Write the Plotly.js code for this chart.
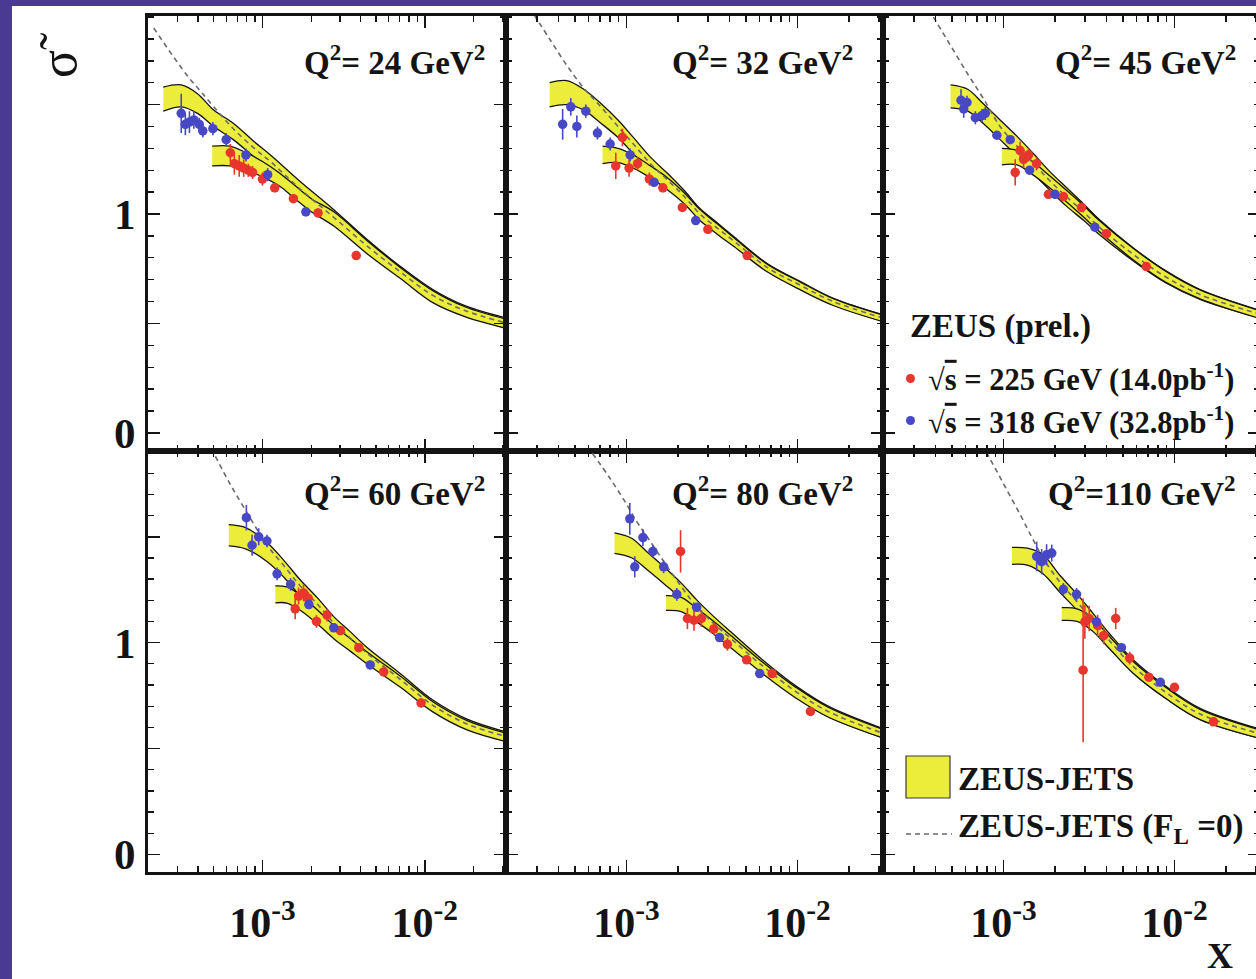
<!DOCTYPE html>
<html>
<head>
<meta charset="utf-8">
<script src="https://cdn.plot.ly/plotly-3.0.1.min.js"></script>
<style>
  html, body { margin: 0; padding: 0; background: #ffffff; overflow: hidden; }
  #chart { width: 1262px; height: 979px; }
</style>
</head>
<body>
<div id="chart"></div>
<script>
// ---- Reduced cross section vs x, six Q^2 bins ----
const qLabels = ['24', '32', '45', '60', '80', '110'];

// Q2 = 24 GeV2
const q24_x318 = [3.16e-4, 3.35e-4, 3.55e-4, 3.78e-4, 4.08e-4, 4.29e-4, 4.95e-4, 5.98e-4, 7.91e-4, 1.076e-3, 1.85e-3];
const q24_y318 = [1.46, 1.41, 1.42, 1.43, 1.41, 1.38, 1.39, 1.34, 1.27, 1.18, 1.01];
const q24_e318 = [0.09, 0.05, 0.05, 0.04, 0.03, 0.03, 0.03, 0.03, 0.03, 0.03, 0.02];
const q24_x225 = [6.34e-4, 6.71e-4, 7.19e-4, 7.66e-4, 8.18e-4, 8.69e-4, 1.0e-3, 1.19e-3, 1.55e-3, 2.20e-3, 3.78e-3];
const q24_y225 = [1.28, 1.23, 1.22, 1.21, 1.20, 1.19, 1.16, 1.12, 1.07, 1.005, 0.81];
const q24_e225 = [0.04, 0.05, 0.05, 0.04, 0.03, 0.03, 0.03, 0.02, 0.02, 0.02, 0.02];
const q24_bandHx = [2.45e-4, 3.16e-4, 3.98e-4, 5.01e-4, 6.61e-4, 8.91e-4, 1.12e-3, 1.70e-3, 2.75e-3, 4.47e-3, 7.08e-3, 1.12e-2, 1.78e-2, 3.16e-2];
const q24_bandHhi = [1.58, 1.59, 1.55, 1.475, 1.415, 1.33, 1.27, 1.15, 1.02, 0.88, 0.76, 0.655, 0.58, 0.525];
const q24_bandHlo = [1.47, 1.49, 1.46, 1.40, 1.34, 1.26, 1.205, 1.08, 0.95, 0.82, 0.71, 0.60, 0.535, 0.48];
const q24_bandLx = [4.90e-4, 6.31e-4, 7.94e-4, 1.0e-3, 1.26e-3, 1.585e-3, 2.0e-3, 2.75e-3, 4.47e-3, 7.08e-3, 1.12e-2, 1.78e-2, 3.16e-2];
const q24_bandLhi = [1.31, 1.31, 1.28, 1.24, 1.19, 1.13, 1.07, 1.01, 0.875, 0.755, 0.65, 0.575, 0.52];
const q24_bandLlo = [1.22, 1.22, 1.20, 1.17, 1.13, 1.07, 1.01, 0.945, 0.815, 0.705, 0.595, 0.53, 0.478];
const q24_flx = [2.14e-4, 2.82e-4, 3.55e-4, 4.17e-4, 5.01e-4, 6.61e-4, 8.91e-4, 1.12e-3, 1.70e-3, 2.75e-3, 4.47e-3, 7.08e-3, 1.12e-2, 1.78e-2, 3.16e-2];
const q24_fly = [1.85, 1.72, 1.62, 1.56, 1.49, 1.39, 1.30, 1.24, 1.115, 0.985, 0.85, 0.735, 0.628, 0.558, 0.502];

// Q2 = 32 GeV2
const q32_x318 = [4.23e-4, 4.72e-4, 5.12e-4, 5.78e-4, 6.76e-4, 8.02e-4, 1.05e-3, 1.45e-3, 2.54e-3];
const q32_y318 = [1.41, 1.49, 1.40, 1.47, 1.37, 1.32, 1.27, 1.145, 0.97];
const q32_e318 = [0.07, 0.04, 0.05, 0.03, 0.03, 0.03, 0.03, 0.02, 0.02];
const q32_x225 = [8.65e-4, 9.46e-4, 1.035e-3, 1.16e-3, 1.36e-3, 1.63e-3, 2.12e-3, 2.99e-3, 5.08e-3];
const q32_y225 = [1.22, 1.35, 1.21, 1.23, 1.16, 1.12, 1.03, 0.93, 0.81];
const q32_e225 = [0.06, 0.04, 0.04, 0.03, 0.03, 0.02, 0.02, 0.02, 0.02];
const q32_bandHx = [3.55e-4, 4.47e-4, 5.62e-4, 7.08e-4, 8.91e-4, 1.096e-3, 1.38e-3, 1.74e-3, 2.19e-3, 2.69e-3, 3.39e-3, 4.27e-3, 6.61e-3, 1.047e-2, 1.62e-2, 3.16e-2];
const q32_bandHhi = [1.60, 1.61, 1.57, 1.505, 1.43, 1.35, 1.26, 1.185, 1.105, 1.025, 0.96, 0.895, 0.775, 0.69, 0.615, 0.54];
const q32_bandHlo = [1.49, 1.50, 1.475, 1.415, 1.35, 1.275, 1.19, 1.12, 1.05, 0.975, 0.912, 0.855, 0.74, 0.655, 0.585, 0.51];
const q32_bandLx = [7.24e-4, 8.91e-4, 1.096e-3, 1.38e-3, 1.74e-3, 2.19e-3, 2.69e-3, 3.39e-3, 4.27e-3, 6.61e-3, 1.047e-2, 1.62e-2, 3.16e-2];
const q32_bandLhi = [1.31, 1.30, 1.27, 1.22, 1.165, 1.095, 1.02, 0.955, 0.89, 0.772, 0.688, 0.613, 0.538];
const q32_bandLlo = [1.23, 1.235, 1.21, 1.165, 1.11, 1.045, 0.97, 0.908, 0.85, 0.737, 0.652, 0.582, 0.508];
const q32_flx = [2.88e-4, 3.55e-4, 4.47e-4, 5.62e-4, 7.08e-4, 8.91e-4, 1.096e-3, 1.38e-3, 1.74e-3, 2.19e-3, 2.69e-3, 3.39e-3, 4.27e-3, 6.61e-3, 1.047e-2, 1.62e-2, 3.16e-2];
const q32_fly = [1.91, 1.80, 1.68, 1.575, 1.49, 1.40, 1.32, 1.23, 1.155, 1.078, 1.0, 0.936, 0.875, 0.757, 0.673, 0.60, 0.525];

// Q2 = 45 GeV2
const q45_x318 = [5.64e-4, 5.85e-4, 6.11e-4, 6.84e-4, 7.48e-4, 7.82e-4, 9.14e-4, 1.094e-3, 1.42e-3, 2.0e-3, 3.42e-3];
const q45_y318 = [1.52, 1.48, 1.51, 1.44, 1.45, 1.46, 1.36, 1.34, 1.20, 1.09, 0.94];
const q45_e318 = [0.05, 0.04, 0.03, 0.03, 0.03, 0.03, 0.02, 0.02, 0.02, 0.02, 0.02];
const q45_x225 = [1.17e-3, 1.25e-3, 1.31e-3, 1.40e-3, 1.56e-3, 1.83e-3, 2.24e-3, 2.86e-3, 4.0e-3, 6.84e-3];
const q45_y225 = [1.19, 1.29, 1.25, 1.27, 1.23, 1.09, 1.08, 1.03, 0.91, 0.76];
const q45_e225 = [0.06, 0.04, 0.04, 0.03, 0.03, 0.02, 0.02, 0.02, 0.02, 0.02];
const q45_bandHx = [4.90e-4, 6.17e-4, 7.59e-4, 9.55e-4, 1.20e-3, 1.48e-3, 1.86e-3, 2.34e-3, 2.95e-3, 3.63e-3, 5.75e-3, 8.91e-3, 1.41e-2, 3.16e-2];
const q45_bandHhi = [1.59, 1.57, 1.505, 1.43, 1.355, 1.28, 1.195, 1.12, 1.045, 0.975, 0.845, 0.74, 0.655, 0.56];
const q45_bandHlo = [1.485, 1.47, 1.415, 1.34, 1.265, 1.19, 1.11, 1.035, 0.97, 0.906, 0.785, 0.685, 0.61, 0.525];
const q45_bandLx = [9.77e-4, 1.20e-3, 1.48e-3, 1.86e-3, 2.34e-3, 2.95e-3, 3.63e-3, 5.75e-3, 8.91e-3, 1.41e-2, 3.16e-2];
const q45_bandLhi = [1.30, 1.29, 1.24, 1.175, 1.108, 1.038, 0.97, 0.842, 0.738, 0.653, 0.558];
const q45_bandLlo = [1.225, 1.225, 1.18, 1.12, 1.055, 0.985, 0.92, 0.79, 0.688, 0.612, 0.522];
const q45_flx = [3.89e-4, 4.90e-4, 6.17e-4, 7.59e-4, 9.55e-4, 1.20e-3, 1.48e-3, 1.86e-3, 2.34e-3, 2.95e-3, 3.63e-3, 5.75e-3, 8.91e-3, 1.41e-2, 3.16e-2];
const q45_fly = [1.90, 1.77, 1.64, 1.53, 1.40, 1.31, 1.235, 1.153, 1.078, 1.008, 0.94, 0.815, 0.712, 0.632, 0.542];

// Q2 = 60 GeV2
const q60_x318 = [7.96e-4, 8.63e-4, 9.48e-4, 1.066e-3, 1.23e-3, 1.49e-3, 1.93e-3, 2.75e-3, 4.61e-3];
const q60_y318 = [1.59, 1.46, 1.50, 1.48, 1.325, 1.275, 1.18, 1.07, 0.895];
const q60_e318 = [0.06, 0.05, 0.04, 0.03, 0.03, 0.03, 0.02, 0.02, 0.02];
const q60_x225 = [1.59e-3, 1.67e-3, 1.79e-3, 1.91e-3, 2.15e-3, 2.50e-3, 3.02e-3, 3.92e-3, 5.58e-3, 9.48e-3];
const q60_y225 = [1.16, 1.22, 1.235, 1.21, 1.10, 1.13, 1.057, 0.976, 0.862, 0.715];
const q60_e225 = [0.05, 0.04, 0.04, 0.03, 0.03, 0.03, 0.02, 0.02, 0.02, 0.02];
const q60_bandHx = [6.2e-4, 7.94e-4, 1.07e-3, 1.35e-3, 1.70e-3, 2.19e-3, 2.75e-3, 3.47e-3, 4.37e-3, 7.08e-3, 1.12e-2, 1.82e-2, 3.16e-2];
const q60_bandHhi = [1.557, 1.542, 1.472, 1.39, 1.298, 1.21, 1.123, 1.052, 0.98, 0.853, 0.729, 0.639, 0.579];
const q60_bandHlo = [1.457, 1.442, 1.382, 1.31, 1.222, 1.14, 1.057, 0.988, 0.92, 0.797, 0.677, 0.591, 0.535];
const q60_bandLx = [1.20e-3, 1.41e-3, 1.70e-3, 2.19e-3, 2.75e-3, 3.47e-3, 4.37e-3, 7.08e-3, 1.12e-2, 1.82e-2, 3.16e-2];
const q60_bandLhi = [1.268, 1.263, 1.226, 1.153, 1.081, 1.02, 0.958, 0.841, 0.721, 0.632, 0.573];
const q60_bandLlo = [1.188, 1.187, 1.154, 1.087, 1.019, 0.96, 0.902, 0.789, 0.673, 0.588, 0.533];
const q60_flx = [5.13e-4, 6.31e-4, 7.94e-4, 1.07e-3, 1.35e-3, 1.70e-3, 2.19e-3, 2.75e-3, 3.47e-3, 4.37e-3, 7.08e-3, 1.12e-2, 1.82e-2, 3.16e-2];
const q60_fly = [1.88, 1.75, 1.62, 1.46, 1.365, 1.27, 1.18, 1.093, 1.022, 0.952, 0.826, 0.704, 0.616, 0.557];

// Q2 = 80 GeV2
const q80_x318 = [1.045e-3, 1.117e-3, 1.247e-3, 1.426e-3, 1.648e-3, 1.968e-3, 2.57e-3, 3.50e-3, 6.01e-3];
const q80_y318 = [1.585, 1.358, 1.496, 1.431, 1.358, 1.228, 1.167, 1.024, 0.854];
const q80_e318 = [0.075, 0.05, 0.04, 0.03, 0.03, 0.03, 0.02, 0.02, 0.02];
const q80_x225 = [2.07e-3, 2.27e-3, 2.48e-3, 2.74e-3, 3.24e-3, 3.89e-3, 5.04e-3, 7.11e-3, 1.19e-2];
const q80_y225 = [1.431, 1.114, 1.106, 1.114, 1.065, 0.992, 0.919, 0.854, 0.675];
const q80_e225 = [0.10, 0.05, 0.05, 0.04, 0.03, 0.03, 0.02, 0.02, 0.02];
const q80_bandHx = [8.5e-4, 1.07e-3, 1.32e-3, 1.66e-3, 2.09e-3, 2.57e-3, 3.24e-3, 4.07e-3, 6.31e-3, 9.77e-3, 1.51e-2, 3.16e-2];
const q80_bandHhi = [1.518, 1.493, 1.428, 1.357, 1.281, 1.202, 1.123, 1.051, 0.916, 0.796, 0.70, 0.594];
const q80_bandHlo = [1.422, 1.401, 1.344, 1.277, 1.207, 1.132, 1.057, 0.989, 0.858, 0.742, 0.65, 0.55];
const q80_bandLx = [1.70e-3, 2.09e-3, 2.57e-3, 3.24e-3, 4.07e-3, 6.31e-3, 9.77e-3, 1.51e-2, 3.16e-2];
const q80_bandLhi = [1.222, 1.214, 1.162, 1.10, 1.034, 0.905, 0.789, 0.695, 0.59];
const q80_bandLlo = [1.152, 1.146, 1.098, 1.04, 0.976, 0.851, 0.739, 0.649, 0.55];
const q80_flx = [6.31e-4, 7.94e-4, 9.77e-4, 1.15e-3, 1.32e-3, 1.66e-3, 2.09e-3, 2.57e-3, 3.24e-3, 4.07e-3, 6.31e-3, 9.77e-3, 1.51e-2, 3.16e-2];
const q80_fly = [1.894, 1.78, 1.667, 1.57, 1.50, 1.38, 1.265, 1.17, 1.09, 1.02, 0.887, 0.769, 0.675, 0.572];

// Q2 = 110 GeV2
const q110_x318 = [1.563e-3, 1.671e-3, 1.786e-3, 1.914e-3, 2.239e-3, 2.673e-3, 3.50e-3, 4.89e-3, 8.26e-3];
const q110_y318 = [1.407, 1.382, 1.415, 1.423, 1.252, 1.228, 1.098, 0.976, 0.813];
const q110_e318 = [0.07, 0.06, 0.05, 0.04, 0.03, 0.03, 0.02, 0.02, 0.02];
const q110_x225 = [2.92e-3, 2.99e-3, 3.17e-3, 3.55e-3, 3.85e-3, 4.53e-3, 5.47e-3, 7.08e-3, 1.0e-2, 1.69e-2];
const q110_y225 = [0.870, 1.098, 1.114, 1.081, 1.033, 1.114, 0.927, 0.837, 0.789, 0.626];
const q110_e225 = [0.34, 0.08, 0.06, 0.05, 0.04, 0.05, 0.03, 0.02, 0.02, 0.02];
const q110_bandHx = [1.12e-3, 1.38e-3, 1.70e-3, 2.14e-3, 2.69e-3, 3.31e-3, 4.17e-3, 5.75e-3, 8.91e-3, 1.41e-2, 3.16e-2];
const q110_bandHhi = [1.45, 1.446, 1.415, 1.317, 1.229, 1.142, 1.042, 0.918, 0.794, 0.69, 0.592];
const q110_bandHlo = [1.37, 1.366, 1.325, 1.237, 1.153, 1.07, 0.974, 0.856, 0.736, 0.636, 0.548];
const q110_bandLx = [2.19e-3, 2.69e-3, 3.31e-3, 4.17e-3, 5.75e-3, 8.91e-3, 1.41e-2, 3.16e-2];
const q110_bandLhi = [1.165, 1.16, 1.115, 1.029, 0.91, 0.788, 0.685, 0.588];
const q110_bandLlo = [1.105, 1.10, 1.055, 0.971, 0.854, 0.736, 0.637, 0.548];
const q110_flx = [7.94e-4, 1.0e-3, 1.26e-3, 1.48e-3, 1.70e-3, 2.14e-3, 2.69e-3, 3.31e-3, 4.17e-3, 5.75e-3, 8.91e-3, 1.41e-2, 3.16e-2];
const q110_fly = [1.90, 1.75, 1.60, 1.49, 1.40, 1.285, 1.193, 1.107, 1.009, 0.887, 0.765, 0.663, 0.57];

// Axis ticks
const xMajor = [1e-3, 1e-2];
const xMajorText = ['10<sup>-3</sup>', '10<sup>-2</sup>'];
const xMinor = [2e-4, 3e-4, 4e-4, 5e-4, 6e-4, 7e-4, 8e-4, 9e-4,
                2e-3, 3e-3, 4e-3, 5e-3, 6e-3, 7e-3, 8e-3, 9e-3, 2e-2, 3e-2];
const yMajor = [0, 0.5, 1, 1.5];
const yMajorText = ['0', '', '1', ''];

const panels = [
  {q: qLabels[0], x318: q24_x318, y318: q24_y318, e318: q24_e318, x225: q24_x225, y225: q24_y225, e225: q24_e225,
   hx: q24_bandHx, hhi: q24_bandHhi, hlo: q24_bandHlo, lx: q24_bandLx, lhi: q24_bandLhi, llo: q24_bandLlo, fx: q24_flx, fy: q24_fly},
  {q: qLabels[1], x318: q32_x318, y318: q32_y318, e318: q32_e318, x225: q32_x225, y225: q32_y225, e225: q32_e225,
   hx: q32_bandHx, hhi: q32_bandHhi, hlo: q32_bandHlo, lx: q32_bandLx, lhi: q32_bandLhi, llo: q32_bandLlo, fx: q32_flx, fy: q32_fly},
  {q: qLabels[2], x318: q45_x318, y318: q45_y318, e318: q45_e318, x225: q45_x225, y225: q45_y225, e225: q45_e225,
   hx: q45_bandHx, hhi: q45_bandHhi, hlo: q45_bandHlo, lx: q45_bandLx, lhi: q45_bandLhi, llo: q45_bandLlo, fx: q45_flx, fy: q45_fly},
  {q: qLabels[3], x318: q60_x318, y318: q60_y318, e318: q60_e318, x225: q60_x225, y225: q60_y225, e225: q60_e225,
   hx: q60_bandHx, hhi: q60_bandHhi, hlo: q60_bandHlo, lx: q60_bandLx, lhi: q60_bandLhi, llo: q60_bandLlo, fx: q60_flx, fy: q60_fly},
  {q: qLabels[4], x318: q80_x318, y318: q80_y318, e318: q80_e318, x225: q80_x225, y225: q80_y225, e225: q80_e225,
   hx: q80_bandHx, hhi: q80_bandHhi, hlo: q80_bandHlo, lx: q80_bandLx, lhi: q80_bandLhi, llo: q80_bandLlo, fx: q80_flx, fy: q80_fly},
  {q: qLabels[5], x318: q110_x318, y318: q110_y318, e318: q110_e318, x225: q110_x225, y225: q110_y225, e225: q110_e225,
   hx: q110_bandHx, hhi: q110_bandHhi, hlo: q110_bandHlo, lx: q110_bandLx, lhi: q110_bandLhi, llo: q110_bandLlo, fx: q110_flx, fy: q110_fly}
];

// ---- page geometry (pixels) ----
const W = 1262, H = 979;
const colEdges = [148, 506, 883, 1260];
const rowEdges = [16, 451, 872];
const px = v => v / W;
const py = v => 1 - v / H;

const SERIF = 'Liberation Serif, Times New Roman, serif';
const INK = '#141414';
const YELLOW = '#ecec3a';
const RED = '#e8352e';
const BLUE = '#4848c6';

const traces = [];
const layout = {
  width: W, height: H, autosize: false,
  margin: {l: 0, r: 0, t: 0, b: 0, pad: 0},
  paper_bgcolor: '#ffffff', plot_bgcolor: '#ffffff',
  showlegend: false,
  font: {family: SERIF, color: INK},
  annotations: [], shapes: []
};

panels.forEach((p, i) => {
  const n = i + 1;
  const col = i % 3, row = Math.floor(i / 3);
  const xa = 'x' + (n === 1 ? '' : n), ya = 'y' + (n === 1 ? '' : n);
  const xkey = 'xaxis' + (n === 1 ? '' : n), ykey = 'yaxis' + (n === 1 ? '' : n);

  layout[xkey] = {
    type: 'log', range: [-3.705, -1.50],
    domain: [px(colEdges[col]), px(colEdges[col + 1])],
    anchor: ya,
    showline: true, mirror: 'allticks', linecolor: INK, linewidth: 2.8,
    ticks: 'inside', ticklen: 12, tickwidth: 1.6, tickcolor: INK,
    tickmode: 'array', tickvals: xMajor, ticktext: xMajorText,
    showticklabels: row === 1,
    ticklabelstandoff: 12,
    tickfont: {family: SERIF, size: 42, color: INK, weight: 'bold'},
    minor: {tickmode: 'array', tickvals: xMinor, ticks: 'inside', ticklen: 6, tickwidth: 1.3, tickcolor: INK, showgrid: false},
    showgrid: false, zeroline: false, fixedrange: true
  };
  layout[ykey] = {
    range: [-0.083, 1.905],
    domain: [py(rowEdges[row + 1]), py(rowEdges[row])],
    anchor: xa,
    showline: true, mirror: 'allticks', linecolor: INK, linewidth: 2.8,
    ticks: 'inside', ticklen: 12, tickwidth: 1.6, tickcolor: INK,
    tickmode: 'array', tickvals: yMajor, ticktext: yMajorText,
    showticklabels: col === 0,
    ticklabelstandoff: 1,
    tickfont: {family: SERIF, size: 43, color: INK, weight: 'bold'},
    minor: {dtick: 0.1, tick0: 0, ticks: 'inside', ticklen: 6, tickwidth: 1.3, tickcolor: INK, showgrid: false},
    showgrid: false, zeroline: false, fixedrange: true
  };

  const common = {xaxis: xa, yaxis: ya, hoverinfo: 'skip'};
  // ZEUS-JETS band, sqrt(s) = 318 GeV
  traces.push(Object.assign({type: 'scatter', mode: 'lines', x: p.hx, y: p.hlo,
    line: {color: INK, width: 1.3, shape: 'spline'}}, common));
  traces.push(Object.assign({type: 'scatter', mode: 'lines', x: p.hx, y: p.hhi, fill: 'tonexty', fillcolor: YELLOW,
    line: {color: INK, width: 1.3, shape: 'spline'}}, common));
  // ZEUS-JETS band, sqrt(s) = 225 GeV
  traces.push(Object.assign({type: 'scatter', mode: 'lines', x: p.lx, y: p.llo,
    line: {color: INK, width: 1.3, shape: 'spline'}}, common));
  traces.push(Object.assign({type: 'scatter', mode: 'lines', x: p.lx, y: p.lhi, fill: 'tonexty', fillcolor: YELLOW,
    line: {color: INK, width: 1.3, shape: 'spline'}}, common));
  // F_L = 0 prediction
  traces.push(Object.assign({type: 'scatter', mode: 'lines', x: p.fx, y: p.fy,
    line: {color: '#6a6a6a', width: 1.6, dash: '5px,4px', shape: 'spline'}}, common));
  // data points
  traces.push(Object.assign({type: 'scatter', mode: 'markers', x: p.x225, y: p.y225,
    marker: {color: RED, size: 9.5},
    error_y: {type: 'data', array: p.e225, visible: true, color: RED, thickness: 1.6, width: 0}}, common));
  traces.push(Object.assign({type: 'scatter', mode: 'markers', x: p.x318, y: p.y318,
    marker: {color: BLUE, size: 9.5},
    error_y: {type: 'data', array: p.e318, visible: true, color: BLUE, thickness: 1.6, width: 0}}, common));

  // Q2 label in the panel's top-right corner
  const labelRight = [487, 855, 1238][col];
  const labelY = [60, 491][row];
  const qText = p.q.length > 2 ? 'Q<sup>2</sup>=' + p.q + ' GeV<sup>2</sup>'
                               : 'Q<sup>2</sup>= ' + p.q + ' GeV<sup>2</sup>';
  layout.annotations.push({xref: 'paper', yref: 'paper', x: px(labelRight), y: py(labelY),
    xanchor: 'right', yanchor: 'middle', showarrow: false, text: qText,
    font: {family: SERIF, size: 33, color: INK, weight: 'bold'}});
});

const ann = layout.annotations, shp = layout.shapes;
const boldFont = s => ({family: SERIF, size: s, color: INK, weight: 'bold'});

// measurement legend
ann.push({xref: 'paper', yref: 'paper', x: px(908), y: py(327), xanchor: 'left', yanchor: 'middle',
  showarrow: false, text: 'ZEUS (prel.)', font: boldFont(33)});
ann.push({xref: 'paper', yref: 'paper', x: px(926), y: py(378), xanchor: 'left', yanchor: 'middle',
  showarrow: false, text: '√<span style="text-decoration:overline">s</span> = 225 GeV (14.0pb<sup>-1</sup>)', font: boldFont(30.5)});
ann.push({xref: 'paper', yref: 'paper', x: px(926), y: py(420), xanchor: 'left', yanchor: 'middle',
  showarrow: false, text: '√<span style="text-decoration:overline">s</span> = 318 GeV (32.8pb<sup>-1</sup>)', font: boldFont(30.5)});
shp.push({type: 'circle', xref: 'paper', yref: 'paper', x0: px(906), x1: px(915), y0: py(383), y1: py(374),
  fillcolor: RED, line: {width: 0}});
shp.push({type: 'circle', xref: 'paper', yref: 'paper', x0: px(906), x1: px(915), y0: py(425), y1: py(416),
  fillcolor: BLUE, line: {width: 0}});

// prediction legend
shp.push({type: 'rect', xref: 'paper', yref: 'paper', x0: px(906), x1: px(950), y0: py(798), y1: py(756),
  fillcolor: YELLOW, line: {color: '#3a3a3a', width: 1.2}});
ann.push({xref: 'paper', yref: 'paper', x: px(956), y: py(779), xanchor: 'left', yanchor: 'middle',
  showarrow: false, text: 'ZEUS-JETS', font: boldFont(33)});
shp.push({type: 'line', xref: 'paper', yref: 'paper', x0: px(906), x1: px(952), y0: py(834), y1: py(834),
  line: {color: '#6a6a6a', width: 1.6, dash: '5px,4px'}});
ann.push({xref: 'paper', yref: 'paper', x: px(956), y: py(828), xanchor: 'left', yanchor: 'middle',
  showarrow: false, text: 'ZEUS-JETS (F<sub>L</sub> =0)', font: boldFont(33)});

// axis titles
ann.push({xref: 'paper', yref: 'paper', x: px(1220), y: py(956), xanchor: 'center', yanchor: 'middle',
  showarrow: false, text: 'X', font: boldFont(36)});
ann.push({xref: 'paper', yref: 'paper', x: px(58), y: py(56), xanchor: 'center', yanchor: 'middle',
  showarrow: false, text: 'σ̃', textangle: -90, font: {family: SERIF, size: 52, color: INK}});

// slide border
shp.push({type: 'rect', xref: 'paper', yref: 'paper', x0: 0, x1: px(12), y0: 0, y1: 1,
  fillcolor: '#4a3a94', line: {width: 0}, layer: 'above'});
shp.push({type: 'rect', xref: 'paper', yref: 'paper', x0: 0, x1: 1, y0: py(6), y1: 1,
  fillcolor: '#4a3a94', line: {width: 0}, layer: 'above'});

Plotly.newPlot('chart', traces, layout, {staticPlot: true, displayModeBar: false});
</script>
</body>
</html>
